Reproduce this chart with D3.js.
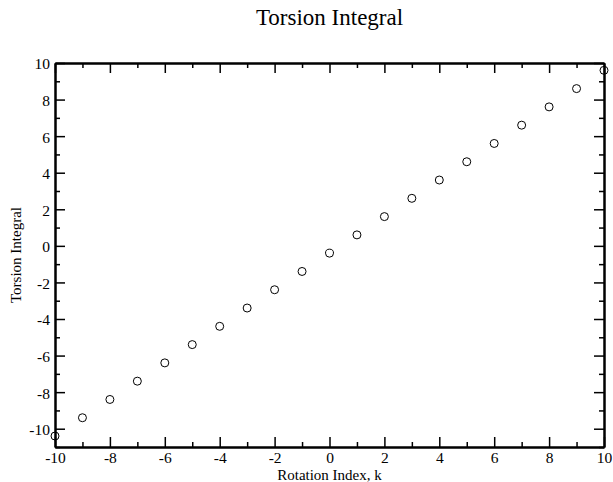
<!DOCTYPE html>
<html><head><meta charset="utf-8">
<script src="https://cdn.jsdelivr.net/npm/d3@7/dist/d3.min.js"></script>
<style>body{margin:0;background:#fff}svg{display:block}svg text{font-family:"Liberation Serif","Times New Roman",serif !important}</style>
</head><body>
<script>
const kValues = [-10,-9,-8,-7,-6,-5,-4,-3,-2,-1,0,1,2,3,4,5,6,7,8,9,10];
const torsion = [-10.4,-9.4,-8.4,-7.4,-6.4,-5.4,-4.4,-3.4,-2.4,-1.4,-0.4,0.6,1.6,2.6,3.6,4.6,5.6,6.6,7.6,8.6,9.6];
const xTicks = [-10,-8,-6,-4,-2,0,2,4,6,8,10];
const yTicks = [-10,-8,-6,-4,-2,0,2,4,6,8,10];
const xMinor = [-9,-7,-5,-3,-1,1,3,5,7,9];
const yMinor = [-11,-9,-7,-5,-3,-1,1,3,5,7,9];

const FONT='"Liberation Serif","Times New Roman",serif';
const W=613,H=482, L=55, R=604, T=63, B=447;
const svg=d3.select("body").append("svg").attr("width",W).attr("height",H)
  .attr("font-family",FONT);
const x=d3.scaleLinear().domain([-10,10]).range([L,R]);
const y=d3.scaleLinear().domain([-11,10]).range([B,T]);
const fmt=d=>String(d);

function ax(gen, tr, ticks, size, labels){
  const g=svg.append("g").attr("transform",tr)
    .call(gen.tickValues(ticks).tickSize(size).tickSizeOuter(0).tickFormat(labels?fmt:""));
  g.attr("font-family",FONT).attr("font-size",15);
  g.select(".domain").attr("stroke","#000").attr("stroke-width",2);
  g.selectAll(".tick line").attr("stroke","#000").attr("stroke-width",1.5);
  g.selectAll("text").attr("fill","#000").style("font-size","15.5px");
  return g;
}
// bottom
const gb=ax(d3.axisBottom(x),`translate(0,${B})`,xTicks,-10,true);
gb.selectAll("text").attr("y",15.5).attr("dy","0");
ax(d3.axisBottom(x),`translate(0,${B})`,xMinor,-5,false);
// top
ax(d3.axisTop(x),`translate(0,${T})`,xTicks,-10,false);
ax(d3.axisTop(x),`translate(0,${T})`,xMinor,-5,false);
// left
const gl=ax(d3.axisLeft(y),`translate(${L},0)`,yTicks,-10,true);
gl.selectAll("text").attr("x",-5).attr("dy","0.38em");
ax(d3.axisLeft(y),`translate(${L},0)`,yMinor,-5,false);
// right
ax(d3.axisRight(y),`translate(${R},0)`,yTicks,-10,false);
ax(d3.axisRight(y),`translate(${R},0)`,yMinor,-5,false);

svg.append("g").selectAll("circle").data(kValues).join("circle")
  .attr("cx",(d)=>x(d)).attr("cy",(d,i)=>y(torsion[i])).attr("r",4)
  .attr("fill","none").attr("stroke","#000").attr("stroke-width",1);

svg.append("text").attr("x",(L+R)/2).attr("y",25).attr("text-anchor","middle").attr("font-size",23).text("Torsion Integral");
svg.append("text").attr("x",(L+R)/2).attr("y",480).attr("text-anchor","middle").attr("font-size",15).text("Rotation Index, k");
svg.append("text").attr("transform",`translate(21,${(T+B)/2}) rotate(-90)`).attr("text-anchor","middle").attr("font-size",15).text("Torsion Integral");
</script>
</body></html>
